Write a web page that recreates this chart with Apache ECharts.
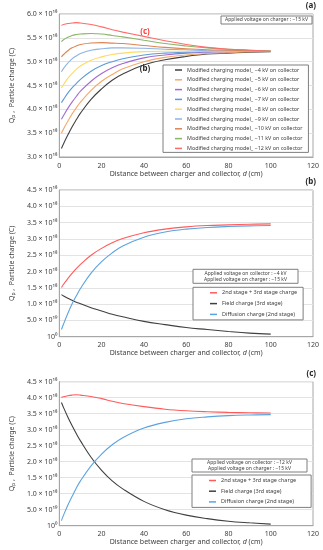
<!DOCTYPE html>
<html><head><meta charset="utf-8">
<script src="https://cdn.jsdelivr.net/npm/echarts@6/dist/echarts.min.js"></script>
<style>html,body{margin:0;padding:0;background:#fff}#c{width:323px;height:550px}</style>
</head><body><div id="c"></div>
<script>
// Distance between charger and collector (cm)
const distances = [1,2,4,6,8,10,15,20,25,30,40,50,60,70,80,90,100];
// Panel (a): particle charge, in units of the axis labels (×10^18)
const namesA = ['Modified charging model_ −4 kV on collector','Modified charging model_ −5 kV on collector','Modified charging model_ −6 kV on collector','Modified charging model_ −7 kV on collector','Modified charging model_ −8 kV on collector','Modified charging model_ −9 kV on collector','Modified charging model_ −10 kV on collector','Modified charging model_ −11 kV on collector','Modified charging model_ −12 kV on collector'];
const a_m4  = [3.18,3.28,3.46,3.63,3.78,3.92,4.21,4.43,4.61,4.74,4.93,5.04,5.11,5.16,5.18,5.20,5.21];
const a_m5  = [3.50,3.59,3.75,3.90,4.03,4.15,4.40,4.59,4.73,4.85,5.00,5.09,5.14,5.17,5.19,5.21,5.22];
const a_m6  = [3.79,3.87,4.02,4.15,4.27,4.38,4.59,4.75,4.87,4.96,5.08,5.14,5.18,5.20,5.21,5.22,5.22];
const a_m7  = [4.14,4.21,4.34,4.45,4.54,4.63,4.80,4.92,5.00,5.06,5.14,5.18,5.20,5.21,5.22,5.22,5.22];
const a_m8  = [4.45,4.52,4.65,4.75,4.84,4.91,5.03,5.10,5.15,5.18,5.21,5.22,5.22,5.22,5.22,5.22,5.22];
const a_m9  = [4.79,4.86,4.97,5.06,5.12,5.17,5.24,5.27,5.29,5.29,5.28,5.26,5.25,5.23,5.23,5.22,5.22];
const a_m10 = [5.10,5.15,5.23,5.29,5.33,5.36,5.39,5.40,5.39,5.38,5.34,5.30,5.27,5.25,5.24,5.23,5.22];
const a_m11 = [5.42,5.46,5.51,5.55,5.57,5.58,5.59,5.58,5.55,5.52,5.45,5.38,5.33,5.29,5.26,5.24,5.22];
const a_m12 = [5.76,5.78,5.80,5.81,5.82,5.81,5.78,5.73,5.67,5.62,5.53,5.44,5.36,5.30,5.26,5.24,5.22];
// Panels (b) and (c)
const namesBC = ['2nd stage + 3rd stage charge','Field charge (3rd stage)','Diffusion charge (2nd stage)'];
const b_total = [1.51,1.61,1.78,1.94,2.09,2.22,2.50,2.71,2.88,3.01,3.19,3.30,3.37,3.41,3.43,3.45,3.46];
const b_field = [1.29,1.25,1.18,1.12,1.06,1.01,0.89,0.79,0.69,0.61,0.47,0.37,0.28,0.22,0.16,0.11,0.08];
const b_diff  = [0.22,0.39,0.71,1.00,1.25,1.48,1.95,2.30,2.57,2.78,3.05,3.21,3.30,3.35,3.38,3.40,3.41];
const c_total = [4.01,4.03,4.06,4.08,4.09,4.08,4.04,3.97,3.89,3.82,3.72,3.64,3.59,3.56,3.54,3.53,3.52];
const c_field = [3.85,3.69,3.40,3.13,2.88,2.65,2.14,1.73,1.40,1.15,0.76,0.50,0.33,0.22,0.14,0.09,0.05];
const c_diff  = [0.16,0.33,0.64,0.91,1.17,1.40,1.87,2.24,2.53,2.75,3.05,3.23,3.34,3.40,3.44,3.46,3.47];
// Tick labels
const yTicksA = ['3.0 × 10¹⁸','3.5 × 10¹⁸','4.0 × 10¹⁸','4.5 × 10¹⁸','5.0 × 10¹⁸','5.5 × 10¹⁸','6.0 × 10¹⁸'];
const yTicksBC = ['10⁰','5.0 × 10¹⁹','1.0 × 10¹⁸','1.5 × 10¹⁸','2.0 × 10¹⁸','2.5 × 10¹⁸','3.0 × 10¹⁸','3.5 × 10¹⁸','4.0 × 10¹⁸','4.5 × 10¹⁸'];
const xTicks = ['0','20','40','60','80','100','120'];

const FONT = 'Noto Sans';
const colorsA = ['#404040','#F5A96B','#A26BD1','#5B9BD5','#FFD966','#8EB4E3','#DD8452','#8AB665','#FF6B6B'];
const colorsBC = ['#FF5B5B','#404040','#5BA3E0'];
const valsA = [a_m4,a_m5,a_m6,a_m7,a_m8,a_m9,a_m10,a_m11,a_m12];
const valsB = [b_total,b_field,b_diff];
const valsC = [c_total,c_field,c_diff];
const pair = arr => distances.map((d,i)=>[d,arr[i]]);

const gridBoxes = [
  {left:50, top:14, width:263, height:143},
  {left:49, top:190, width:264, height:146.7},
  {left:48.5, top:381.7, width:264.5, height:144}
];
const yNameRich = {
  a:{fontSize:7, fontFamily:FONT, color:'#404040'},
  s:{fontSize:5, fontFamily:FONT, color:'#404040', padding:[4,0,0,0]}
};
function xAxis(i){
  return {type:'value', gridIndex:i, min:0, max:120, interval:20,
    axisLine:{show:true, lineStyle:{color:'#a6a6a6'}}, axisTick:{show:false}, splitLine:{show:false},
    axisLabel:{fontSize:7, fontFamily:FONT, color:'#404040', margin:5, formatter:(v)=>xTicks[Math.round(v/20)]},
    name:'{t|Distance between charger and collector, }{i|d}{t| (cm)}', nameLocation:'middle', nameGap:13,
    nameTextStyle:{rich:{t:{fontSize:7, fontFamily:FONT, color:'#404040'}, i:{fontSize:7, fontFamily:FONT, fontStyle:'italic', color:'#404040'}}}
  };
}
function yAxis(i, min, max, ticks){
  return {type:'value', gridIndex:i, min:min, max:max, interval:0.5,
    axisLine:{show:true, lineStyle:{color:'#a6a6a6'}}, axisTick:{show:false},
    splitLine:{show:true, lineStyle:{color:'#e3e3e3', width:1}},
    axisLabel:{fontSize:7, fontFamily:FONT, color:'#404040', margin:2, formatter:(v)=>ticks[Math.round((v-min)/0.5)]},
    name:'{a|Q}{s|p}{a| ,  Particle charge (C)}', nameLocation:'middle', nameGap:35, nameRotate:90,
    nameTextStyle:{rich:yNameRich}
  };
}
const series = [];
valsA.forEach((v,k)=>series.push({name:namesA[k], type:'line', xAxisIndex:0, yAxisIndex:0, data:pair(v), smooth:0.4, showSymbol:false, color:colorsA[k], lineStyle:{width:1.1, color:colorsA[k]}}));
valsB.forEach((v,k)=>series.push({name:namesBC[k], type:'line', xAxisIndex:1, yAxisIndex:1, data:pair(v), smooth:0.4, showSymbol:false, color:colorsBC[k], lineStyle:{width:1.1, color:colorsBC[k]}}));
valsC.forEach((v,k)=>series.push({name:namesBC[k], type:'line', xAxisIndex:2, yAxisIndex:2, data:pair(v), smooth:0.4, showSymbol:false, color:colorsBC[k], lineStyle:{width:1.1, color:colorsBC[k]}}));

const legendCommon = {orient:'vertical', borderColor:'#7f7f7f', borderWidth:1, backgroundColor:'#fff', icon:'rect', itemWidth:7, itemHeight:1.5, selectedMode:false};
function infoBox(x,y,w,h,lines){
  return [
    {type:'rect', shape:{x:x,y:y,width:w,height:h}, style:{fill:'#fff', stroke:'#7f7f7f', lineWidth:1}, z:10},
    {type:'text', x:x+w/2, y:y+h/2, style:{text:lines.join('\n'), align:'center', verticalAlign:'middle', fontSize:5, lineHeight:6, fontFamily:FONT, fill:'#404040'}, z:11}
  ];
}
const chart = echarts.init(document.getElementById('c'), null, {renderer:'canvas'});
chart.setOption({
  backgroundColor:'#fff',
  animation:false,
  grid: gridBoxes.map(g=>Object.assign({show:true, borderColor:'#a6a6a6', borderWidth:1, backgroundColor:'transparent'}, g)),
  xAxis:[xAxis(0), xAxis(1), xAxis(2)],
  yAxis:[yAxis(0,3,6,yTicksA), yAxis(1,0,4.5,yTicksBC), yAxis(2,0,4.5,yTicksBC)],
  legend:[
    Object.assign({}, legendCommon, {left:163, top:65, padding:[1.5,6,0.5,12], itemGap:2.8, data:namesA,
      textStyle:{fontSize:5.4, lineHeight:7, fontFamily:FONT, color:'#404040'}}),
    Object.assign({}, legendCommon, {left:193, top:287.3, padding:[2,6,2,17], itemGap:3.8, data:namesBC,
      textStyle:{fontSize:5.5, lineHeight:7, fontFamily:FONT, color:'#404040'}}),
    Object.assign({}, legendCommon, {left:192, top:475, padding:[2,15,2,17], itemGap:3.7, data:namesBC,
      textStyle:{fontSize:5.5, lineHeight:7, fontFamily:FONT, color:'#404040'}})
  ],
  graphic:[].concat(
    infoBox(221,16,91,8,['Applied voltage on charger : −15 kV']),
    infoBox(193,269.3,105,14,['Applied voltage on collector : −4 kV','Applied voltage on charger : −15 kV']),
    infoBox(192,459,115,13,['Applied voltage on collector : −12 kV','Applied voltage on charger : −15 kV']),
    [
      {type:'text', x:316, y:6, style:{text:'(a)', align:'right', verticalAlign:'middle', fontSize:8, fontWeight:'bold', fontFamily:FONT, fill:'#262626'}},
      {type:'text', x:316, y:182, style:{text:'(b)', align:'right', verticalAlign:'middle', fontSize:8, fontWeight:'bold', fontFamily:FONT, fill:'#262626'}},
      {type:'text', x:316, y:374, style:{text:'(c)', align:'right', verticalAlign:'middle', fontSize:8, fontWeight:'bold', fontFamily:FONT, fill:'#262626'}},
      {type:'text', x:145, y:32, style:{text:'(c)', align:'center', verticalAlign:'middle', fontSize:8, fontWeight:'bold', fontFamily:FONT, fill:'#FF3B3B'}},
      {type:'text', x:145, y:69, style:{text:'(b)', align:'center', verticalAlign:'middle', fontSize:8, fontWeight:'bold', fontFamily:FONT, fill:'#262626'}}
    ]
  ),
  series: series
});
</script></body></html>
